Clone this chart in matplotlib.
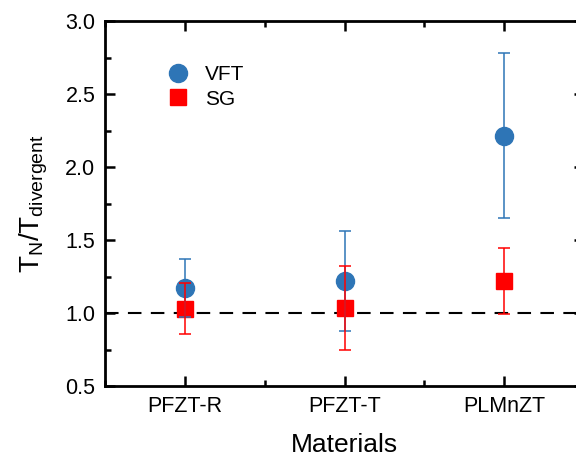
import matplotlib
matplotlib.use('Agg')
import matplotlib.pyplot as plt
import numpy as np
from matplotlib.ticker import MultipleLocator

plt.rcParams['font.family'] = ['Liberation Sans', 'DejaVu Sans']

materials = ['PFZT-R', 'PFZT-T', 'PLMnZT']
vft = [1.17, 1.22, 2.215]
vft_err = [0.20, 0.34, 0.567]
sg = [1.03, 1.035, 1.22]
sg_err = [0.176, 0.29, 0.224]

blue = '#2E75B6'
red = '#FF0000'

x = np.arange(1, len(materials) + 1)

fig = plt.figure(figsize=(5.76, 4.58), dpi=100)
ax = fig.add_axes([0.1823, 0.1572, 0.8316, 0.7969])

# markers first, error bars drawn over them
ax.plot(x, vft, 'o', color=blue, markersize=13, label='VFT', zorder=3)
ax.plot(x, sg, 's', color=red, markersize=11.5, label='SG', zorder=3)
ax.errorbar(x, vft, yerr=vft_err, fmt='none', ecolor=blue, elinewidth=1.1,
            capsize=4, capthick=1.1, zorder=4)
ax.errorbar(x, sg, yerr=sg_err, fmt='none', ecolor=red, elinewidth=1.1,
            capsize=4, capthick=1.1, zorder=4)

ax.axhline(1.0, color='black', linestyle=(0, (6.5, 4.5)), linewidth=1.5, zorder=2)

ax.set_xlim(0.5, 3.5)
ax.set_ylim(0.5, 3.0)
ax.set_xticks(x)
ax.set_xticklabels(materials)
ax.xaxis.set_minor_locator(MultipleLocator(0.5))
ax.yaxis.set_minor_locator(MultipleLocator(0.25))
ax.set_yticks([0.5, 1.0, 1.5, 2.0, 2.5, 3.0])
ax.set_yticklabels(['0.5', '1.0', '1.5', '2.0', '2.5', '3.0'])

ax.tick_params(which='both', direction='in', top=True, right=True, width=1.8,
               labelsize=15.5, pad=7)
ax.tick_params(which='major', length=7)
ax.tick_params(which='minor', length=4)
for s in ax.spines.values():
    s.set_linewidth(2)

ax.set_xlabel('Materials', fontsize=19, labelpad=12)
ax.set_ylabel(r'T$_\mathregular{N}$/T$_\mathregular{divergent}$', fontsize=20, labelpad=11)

ax.legend(loc='upper left', bbox_to_anchor=(0.07, 0.93), frameon=False,
          fontsize=15, handletextpad=0.3, labelspacing=0.25, numpoints=1)

plt.savefig('out.png', dpi=100)
